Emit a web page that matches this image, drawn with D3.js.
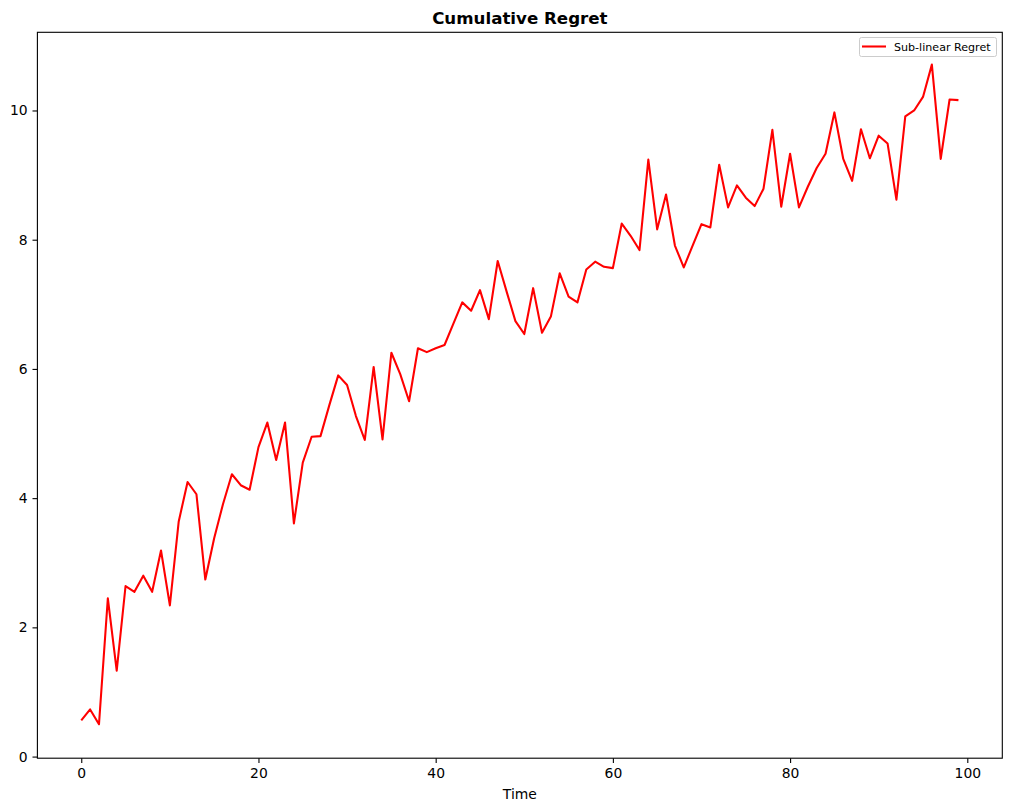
<!DOCTYPE html>
<html><head><meta charset="utf-8">
<script src="https://cdn.jsdelivr.net/npm/d3@7"></script>
<style>body{margin:0;background:#fff}svg{display:block}text{font-family:"DejaVu Sans",sans-serif}</style>
</head><body><svg id="c" width="1011" height="811"></svg>
<script>
const title = "Cumulative Regret";
const xLabel = "Time";
const seriesName = "Sub-linear Regret";
const xTicks = [0, 20, 40, 60, 80, 100];
const yTicks = [0, 2, 4, 6, 8, 10];
const regret = [
 0.56,0.73,0.50,2.45,1.33,2.64,2.55,2.80,2.55,3.19,
 2.34,3.64,4.25,4.06,2.74,3.38,3.91,4.37,4.20,4.13,
 4.79,5.17,4.59,5.17,3.61,4.55,4.95,4.96,5.44,5.90,
 5.75,5.27,4.90,6.03,4.91,6.25,5.92,5.50,6.32,6.26,
 6.32,6.37,6.70,7.03,6.90,7.22,6.77,7.67,7.20,6.74,
 6.54,7.25,6.56,6.81,7.48,7.12,7.03,7.54,7.66,7.58,
 7.56,8.25,8.06,7.84,9.24,8.16,8.70,7.91,7.57,7.91,
 8.24,8.19,9.16,8.50,8.84,8.65,8.52,8.79,9.70,8.51,
 9.33,8.50,8.82,9.11,9.33,9.97,9.25,8.91,9.71,9.26,
 9.61,9.49,8.62,9.91,10.00,10.21,10.71,9.25,10.17,10.16
];
const time = d3.range(regret.length);

const svg = d3.select("#c");
const L = 37.4, R = 1002.3, T = 32.3, B = 758.2;
const xmin = d3.min(time), xmax = d3.max(time), xpad = (xmax - xmin) * 0.05;
const ymax = d3.max(regret);
const x = d3.scaleLinear().domain([xmin - xpad, xmax + xpad]).range([L, R]);
const y = d3.scaleLinear().domain([-0.025, ymax + 0.5]).range([B, T]);

const line = d3.line().x((d, i) => x(time[i])).y(d => y(d));
svg.append("path").datum(regret).attr("d", line)
  .attr("fill", "none").attr("stroke", "#ff0000").attr("stroke-width", 2.08)
  .attr("stroke-linejoin", "round").attr("stroke-linecap", "butt");

const xAxis = d3.axisBottom(x).tickValues(xTicks).tickSize(4.9).tickPadding(4.9).tickFormat(d3.format("d"));
const gx = svg.append("g").attr("transform", `translate(0,${B})`).call(xAxis);
const yAxis = d3.axisLeft(y).tickValues(yTicks).tickSize(4.9).tickPadding(4.9).tickFormat(d3.format("d"));
const gy = svg.append("g").attr("transform", `translate(${L},0)`).call(yAxis);
[gx, gy].forEach(g => {
  g.select(".domain").remove();
  g.selectAll(".tick line").attr("stroke", "#000").attr("stroke-width", 1.1);
  g.selectAll(".tick text").attr("fill", "#000").style("font-size", "13.9px").style("font-family", "DejaVu Sans");
});

svg.append("rect").attr("x", L).attr("y", T).attr("width", R - L).attr("height", B - T)
  .attr("fill", "none").attr("stroke", "#000").attr("stroke-width", 1.1);

svg.append("text").attr("x", (L + R) / 2).attr("y", 24).attr("text-anchor", "middle")
  .style("font-size", "16.67px").style("font-weight", "bold").text(title);
svg.append("text").attr("x", (L + R) / 2).attr("y", 799).attr("text-anchor", "middle")
  .style("font-size", "13.9px").text(xLabel);

const lg = svg.append("g");
lg.append("rect").attr("x", 859.5).attr("y", 37.5).attr("width", 137).attr("height", 19).attr("rx", 2)
  .attr("fill", "#fff").attr("fill-opacity", 0.8).attr("stroke", "#ccc").attr("stroke-width", 1);
lg.append("line").attr("x1", 862).attr("x2", 886).attr("y1", 46.5).attr("y2", 46.5)
  .attr("stroke", "#ff0000").attr("stroke-width", 2.08);
lg.append("text").attr("x", 894).attr("y", 50.5).style("font-size", "11.1px").attr("fill", "#000").text(seriesName);
</script></body></html>
